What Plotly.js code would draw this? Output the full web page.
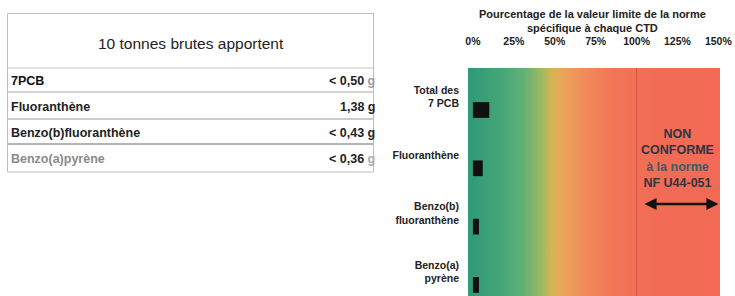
<!DOCTYPE html>
<html><head><meta charset="utf-8">
<script src="https://cdn.plot.ly/plotly-3.0.1.min.js"></script>
<style>html,body{margin:0;padding:0;background:#fff}#c{width:735px;height:296px}</style>
</head><body><div id="c"></div>
<script>
// ---- data ----
const tableTitle = "10 tonnes brutes apportent";
const tableNames = ["7PCB", "Fluoranthène", "Benzo(b)fluoranthène", "Benzo(a)pyrène"];
const tableValues = ["< 0,50", "1,38", "< 0,43", "< 0,36"];
const tableUnit = "g";
const categories = ["Total des<br>7 PCB", "Fluoranthène", "Benzo(b)<br>fluoranthène", "Benzo(a)<br>pyrène"];
const percentValues = [10, 6, 3.7, 3.7];
const tickValues = [0, 25, 50, 75, 100, 125, 150];
const tickLabels = ["0%", "25%", "50%", "75%", "100%", "125%", "150%"];
const chartTitle = "Pourcentage de la valeur limite de la norme<br>spécifique à chaque CTD";
const limitValue = 100;
const nonConformText = "NON<br>CONFORME<br><span style='color:#3e5a6a'>à la norme</span><br>NF U44-051";

// ---- helpers (pixel -> paper) ----
const W = 735, H = 296;
const px = x => x / W, py = y => 1 - y / H;
const FONT = "Arial, 'Liberation Sans', sans-serif";

const xMin = -3, xMax = 151;

const traces = [
  { // gradient background
    type: 'scatter', x: [xMin, xMax, xMax, xMin, xMin], y: [0, 0, 1, 1, 0],
    xaxis: 'x', yaxis: 'y', mode: 'lines', line: {width: 0}, fill: 'toself',
    fillgradient: {type: 'horizontal', start: xMin, stop: xMax, colorscale: [
      [0.00, '#2f9a77'], [0.12, '#42a577'], [0.22, '#62b076'], [0.29, '#9cb963'],
      [0.33, '#d3b651'], [0.38, '#eba35a'], [0.47, '#f1895b'], [0.58, '#f27558'],
      [0.75, '#f26c55'], [1.00, '#f26a55']]},
    hoverinfo: 'skip', showlegend: false
  },
  { // bars
    type: 'bar', orientation: 'h', x: percentValues, y: categories,
    xaxis: 'x', yaxis: 'y2', width: 0.27,
    marker: {color: '#111', line: {width: 0}}, showlegend: false
  }
];

const shapes = [
  {type: 'line', xref: 'x', yref: 'paper', x0: limitValue, x1: limitValue, y0: 0, y1: py(68),
   line: {color: 'rgba(180,70,50,0.55)', width: 1}},
  // table outer box
  {type: 'rect', xref: 'paper', yref: 'paper', x0: px(7.5), x1: px(373.5), y0: py(13.5), y1: py(172),
   line: {color: '#bdbdbd', width: 1}},
  {type: 'line', xref: 'paper', yref: 'paper', x0: px(8), x1: px(373), y0: py(68), y1: py(68), line: {color: '#c4c4c4', width: 1}},
  {type: 'line', xref: 'paper', yref: 'paper', x0: px(8), x1: px(373), y0: py(92), y1: py(92), line: {color: '#a8a8a8', width: 1}},
  {type: 'line', xref: 'paper', yref: 'paper', x0: px(8), x1: px(373), y0: py(119), y1: py(119), line: {color: '#9a9a9a', width: 1}},
  {type: 'line', xref: 'paper', yref: 'paper', x0: px(8), x1: px(373), y0: py(144), y1: py(144), line: {color: '#6a6a6a', width: 1}}
];

const annotations = [];
annotations.push({xref: 'paper', yref: 'paper', x: px(191), y: py(43), text: tableTitle, showarrow: false,
  xanchor: 'center', yanchor: 'middle', font: {family: FONT, size: 15.5, color: '#222'}});
const rowY = [81, 107, 133, 159];
const nameColors = ['#111', '#222', '#222', '#8a8a8a'];
const unitColors = ['#9a9a9a', '#222', '#222', '#aaaaaa'];
tableNames.forEach((n, i) => {
  annotations.push({xref: 'paper', yref: 'paper', x: px(9), y: py(rowY[i]), text: '<b>' + n + '</b>', showarrow: false,
    xanchor: 'left', yanchor: 'middle', font: {family: FONT, size: 12.5, color: nameColors[i]}});
  annotations.push({xref: 'paper', yref: 'paper', x: px(377), y: py(rowY[i]),
    text: '<b>' + tableValues[i] + ' <span style="color:' + unitColors[i] + '">' + tableUnit + '</span></b>', showarrow: false,
    xanchor: 'right', yanchor: 'middle', font: {family: FONT, size: 12.5, color: '#222'}});
});
annotations.push({xref: 'paper', yref: 'paper', x: px(592), y: py(21), text: '<b>' + chartTitle + '</b>', showarrow: false,
  xanchor: 'center', yanchor: 'middle', font: {family: FONT, size: 11, color: '#222'}});
annotations.push({xref: 'x', yref: 'paper', x: 125, y: py(158), text: '<b>' + nonConformText + '</b>', showarrow: false,
  xanchor: 'center', yanchor: 'middle', font: {family: FONT, size: 12.5, color: '#2b3640'}});
annotations.push({xref: 'x', yref: 'paper', x: xMax - 1, y: py(204), ax: limitValue + 4, ay: py(204), axref: 'x', ayref: 'paper',
  text: '', showarrow: true, arrowside: 'end+start', arrowhead: 2, arrowsize: 1, arrowwidth: 2.4, arrowcolor: '#111'});

const layout = {
  width: W, height: H, margin: {l: 0, r: 0, t: 0, b: 0},
  paper_bgcolor: '#fff', plot_bgcolor: '#fff', showlegend: false,
  font: {family: FONT},
  xaxis: {domain: [px(468), px(720)], range: [xMin, xMax], side: 'top', tickmode: 'array',
    tickvals: tickValues, ticktext: tickLabels,
    showgrid: false, zeroline: false, showline: false, ticks: 'outside', ticklen: 18, tickcolor: 'rgba(0,0,0,0)',
    tickfont: {family: FONT, size: 10.5, color: '#222', weight: 'bold'}, fixedrange: true},
  yaxis: {domain: [0, py(68)], range: [0, 1], visible: false, fixedrange: true},
  yaxis2: {overlaying: 'y', side: 'left', type: 'category', range: [3.19, -0.72],
    showgrid: false, zeroline: false, showline: false, ticks: '', ticklabelstandoff: 8, ticklabelshift: 13,
    tickfont: {family: FONT, size: 10.5, color: '#222', weight: 'bold'}, fixedrange: true},
  shapes: shapes, annotations: annotations
};
Plotly.newPlot('c', traces, layout, {staticPlot: true, displayModeBar: false});
</script></body></html>
